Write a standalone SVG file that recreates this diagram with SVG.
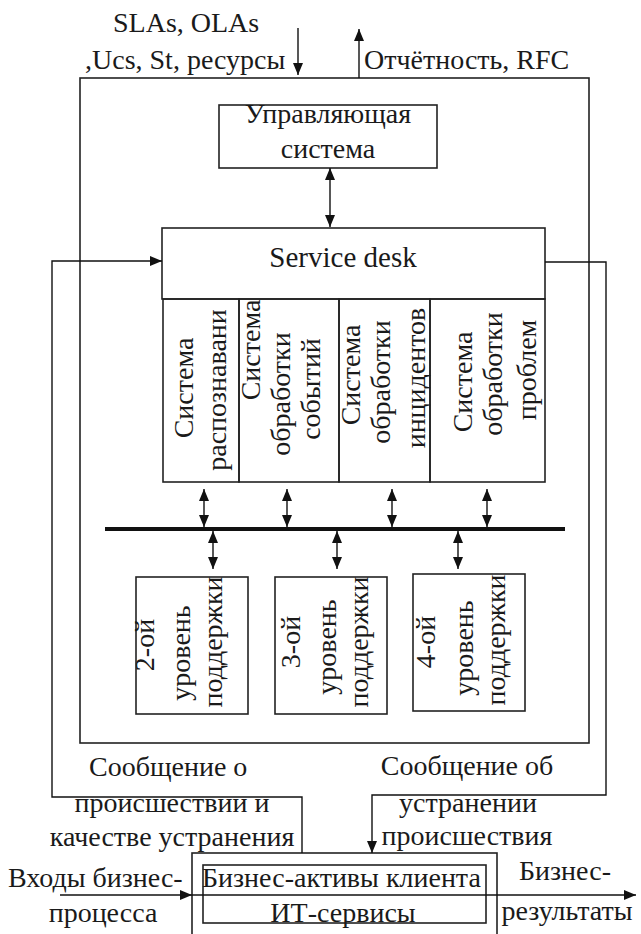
<svg xmlns="http://www.w3.org/2000/svg" width="641" height="934" viewBox="0 0 641 934">
<style>
text{font-family:"Liberation Serif","Times New Roman",serif;font-size:28px;fill:#1a1a1a}
.m{text-anchor:middle}
.box{fill:none;stroke:#222;stroke-width:1.6}
.ln{fill:none;stroke:#111;stroke-width:1.4}
</style>
<defs>
<marker id="ah" markerUnits="userSpaceOnUse" markerWidth="12" markerHeight="10" refX="12" refY="5" orient="auto-start-reverse">
<path d="M0,0 L12,5 L0,10 z" fill="#111"/>
</marker>
</defs>
<rect width="641" height="934" fill="#fff"/>

<g id="outer"><rect class="box" x="80" y="78" width="509" height="665"/></g>

<g id="top-labels">
<text x="113" y="32">SLAs, OLAs</text>
<text x="85" y="69">,Ucs, St, ресурсы</text>
<text x="364" y="69">Отчётность, RFC</text>
</g>

<g id="control">
<rect class="box" x="219" y="105" width="218" height="63"/>
<text class="m" x="328" y="123">Управляющая</text>
<text class="m" x="328" y="158">система</text>
</g>

<g id="servicedesk">
<rect class="box" x="162" y="228" width="383" height="71"/>
<text class="m" x="343" y="267" style="font-size:29px">Service desk</text>
</g>

<g id="sub1">
<rect class="box" x="163" y="299" width="76" height="183"/>
<text class="m" transform="translate(193,388) rotate(-90)">Система</text>
<text class="m" transform="translate(226,390) rotate(-90)">распознавани</text>
</g>
<g id="sub2">
<rect class="box" x="239" y="299" width="100" height="183"/>
<text class="m" transform="translate(260,350) rotate(-90)">Система</text>
<text class="m" transform="translate(290,394) rotate(-90)">обработки</text>
<text class="m" transform="translate(320,389) rotate(-90)">событий</text>
</g>
<g id="sub3">
<rect class="box" x="339" y="299" width="91" height="183"/>
<text class="m" transform="translate(360,375) rotate(-90)">Система</text>
<text class="m" transform="translate(390,382) rotate(-90)">обработки</text>
<text class="m" transform="translate(425,378) rotate(-90)">инцидентов</text>
</g>
<g id="sub4">
<rect class="box" x="430" y="299" width="115" height="183"/>
<text class="m" transform="translate(472,382) rotate(-90)">Система</text>
<text class="m" transform="translate(502,374) rotate(-90)">обработки</text>
<text class="m" transform="translate(536,370) rotate(-90)">проблем</text>
</g>

<g id="bus"><line x1="105" y1="529" x2="565" y2="529" stroke="#111" stroke-width="4"/></g>

<g id="level2">
<rect class="box" x="136" y="577" width="112" height="137"/>
<text class="m" transform="translate(154,645) rotate(-90)">2-ой</text>
<text class="m" transform="translate(190,653) rotate(-90)">уровень</text>
<text class="m" transform="translate(222,642) rotate(-90)">поддержки</text>
</g>
<g id="level3">
<rect class="box" x="275" y="577" width="112" height="137"/>
<text class="m" transform="translate(300,642) rotate(-90)">3-ой</text>
<text class="m" transform="translate(336,647) rotate(-90)">уровень</text>
<text class="m" transform="translate(368,642) rotate(-90)">поддержки</text>
</g>
<g id="level4">
<rect class="box" x="413" y="574" width="112" height="137"/>
<text class="m" transform="translate(435,642) rotate(-90)">4-ой</text>
<text class="m" transform="translate(473,648) rotate(-90)">уровень</text>
<text class="m" transform="translate(505,640) rotate(-90)">поддержки</text>
</g>

<g id="client">
<rect class="box" x="192" y="853" width="305" height="100"/>
<rect class="box" x="203" y="865" width="283" height="58"/>
<text x="202" y="887">Бизнес-активы клиента</text>
<text class="m" x="343" y="922">ИТ-сервисы</text>
</g>

<g id="labels">
<text x="89" y="776">Сообщение о</text>
<text class="m" x="172" y="812">происшествии и</text>
<text class="m" x="172" y="846">качестве устранения</text>
<text class="m" x="467" y="775">Сообщение об</text>
<text class="m" x="468" y="812">устранении</text>
<text class="m" x="467" y="845">происшествия</text>
<text x="8" y="887">Входы бизнес-</text>
<text class="m" x="103" y="922">процесса</text>
<text class="m" x="565" y="880">Бизнес-</text>
<text class="m" x="567" y="920">результаты</text>
</g>

<g id="connectors">
<line class="ln" x1="298" y1="28" x2="298" y2="75" marker-end="url(#ah)"/>
<line class="ln" x1="359" y1="78" x2="359" y2="29" marker-end="url(#ah)"/>
<line class="ln" x1="330" y1="168" x2="330" y2="227" marker-start="url(#ah)" marker-end="url(#ah)"/>
<path class="ln" d="M302,853 V797 H52 V261 H162" marker-end="url(#ah)"/>
<path class="ln" d="M545,262 H606 V795 H372 V853" marker-end="url(#ah)"/>
<line class="ln" x1="204" y1="489" x2="204" y2="527" marker-start="url(#ah)" marker-end="url(#ah)"/>
<line class="ln" x1="287" y1="489" x2="287" y2="527" marker-start="url(#ah)" marker-end="url(#ah)"/>
<line class="ln" x1="392" y1="489" x2="392" y2="527" marker-start="url(#ah)" marker-end="url(#ah)"/>
<line class="ln" x1="487" y1="489" x2="487" y2="527" marker-start="url(#ah)" marker-end="url(#ah)"/>
<line class="ln" x1="213" y1="531" x2="213" y2="569" marker-start="url(#ah)" marker-end="url(#ah)"/>
<line class="ln" x1="337" y1="531" x2="337" y2="569" marker-start="url(#ah)" marker-end="url(#ah)"/>
<line class="ln" x1="458" y1="531" x2="458" y2="569" marker-start="url(#ah)" marker-end="url(#ah)"/>
<line class="ln" x1="60" y1="895" x2="192" y2="895" marker-end="url(#ah)"/>
<line class="ln" x1="192" y1="895" x2="636" y2="895" marker-end="url(#ah)"/>
</g>
</svg>
